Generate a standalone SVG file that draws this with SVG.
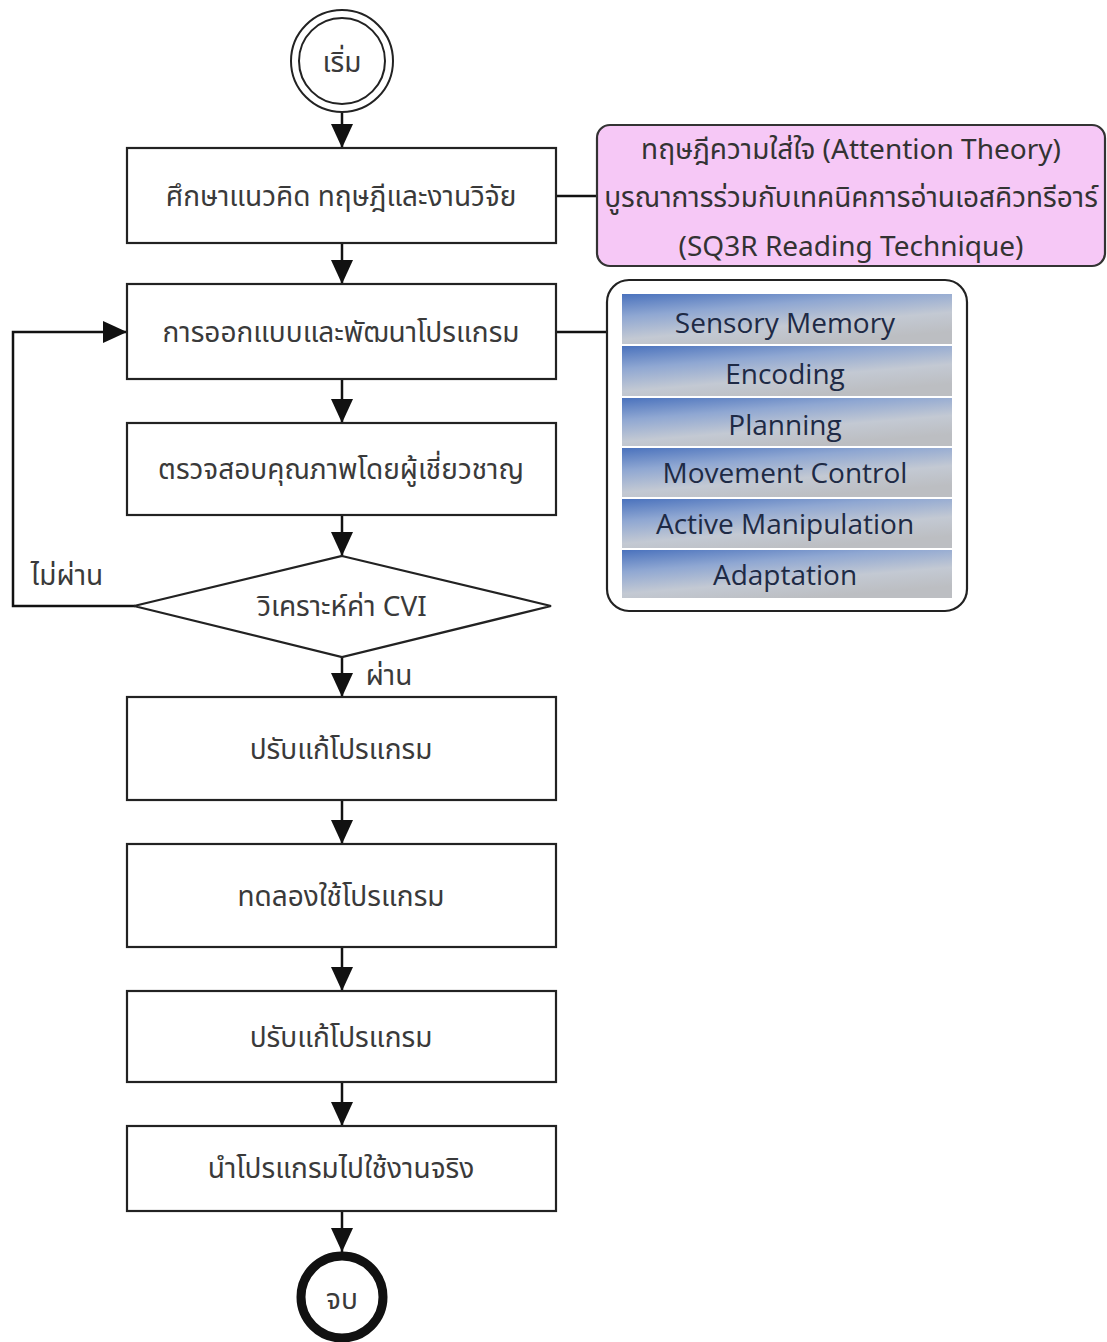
<svg xmlns="http://www.w3.org/2000/svg" width="1107" height="1342" viewBox="0 0 1107 1342">
<style>
.box{fill:#fff;stroke:#222;stroke-width:2.2}
.con{fill:none;stroke:#111;stroke-width:2.5}
.t{font-family:"Noto Sans Thai","Noto Sans","DejaVu Sans","Liberation Sans",sans-serif;font-size:28px;fill:#3a3a3a;text-anchor:middle;dominant-baseline:central}
.p{font-family:"Noto Sans Thai","Noto Sans","DejaVu Sans","Liberation Sans",sans-serif;font-size:28px;fill:#333;text-anchor:middle;dominant-baseline:central}
.b{font-family:"Open Sans","Noto Sans","DejaVu Sans",sans-serif;font-size:28px;fill:#1e2a45;text-anchor:middle;dominant-baseline:central}
</style>
<defs>
<marker id="arr" markerUnits="userSpaceOnUse" markerWidth="24" markerHeight="22" viewBox="0 0 24 22" refX="24" refY="11" orient="auto">
<path d="M0,0 L24,11 L0,22 z" fill="#111"/>
</marker>
<linearGradient id="band" x1="0" y1="0" x2="0.55" y2="1">
<stop offset="0" stop-color="#4a72bd"/>
<stop offset="0.35" stop-color="#8fa7d2"/>
<stop offset="0.7" stop-color="#c3c9d3"/>
<stop offset="1" stop-color="#bcbec2"/>
</linearGradient>
</defs>
<rect width="1107" height="1342" fill="#fff"/>

<g id="connectors">
<line class="con" x1="342" y1="113" x2="342" y2="148" marker-end="url(#arr)"/>
<line class="con" x1="342" y1="243" x2="342" y2="284" marker-end="url(#arr)"/>
<line class="con" x1="342" y1="379" x2="342" y2="423" marker-end="url(#arr)"/>
<line class="con" x1="342" y1="515" x2="342" y2="556" marker-end="url(#arr)"/>
<line class="con" x1="342" y1="657" x2="342" y2="697" marker-end="url(#arr)"/>
<line class="con" x1="342" y1="800" x2="342" y2="844" marker-end="url(#arr)"/>
<line class="con" x1="342" y1="947" x2="342" y2="991" marker-end="url(#arr)"/>
<line class="con" x1="342" y1="1082" x2="342" y2="1126" marker-end="url(#arr)"/>
<line class="con" x1="342" y1="1211" x2="342" y2="1252" marker-end="url(#arr)"/>
<polyline class="con" points="135,606 13,606 13,332 127,332" marker-end="url(#arr)"/>
<line class="con" x1="556" y1="196" x2="597" y2="196"/>
<line class="con" x1="556" y1="332" x2="607" y2="332"/>
<text class="t" x="67" y="576">ไม่ผ่าน</text>
<text class="t" x="389" y="676">ผ่าน</text>
</g>

<g id="start">
<circle cx="342" cy="61" r="51" fill="#fff" stroke="#222" stroke-width="2"/>
<circle cx="342" cy="61" r="43" fill="#fff" stroke="#222" stroke-width="2"/>
<text class="t" x="342" y="63">เริ่ม</text>
</g>

<g id="n1">
<rect class="box" x="127" y="148" width="429" height="95"/>
<text class="t" x="341" y="197">ศึกษาแนวคิด ทฤษฎีและงานวิจัย</text>
</g>
<g id="n2">
<rect class="box" x="127" y="284" width="429" height="95"/>
<text class="t" x="341" y="333">การออกแบบและพัฒนาโปรแกรม</text>
</g>
<g id="n3">
<rect class="box" x="127" y="423" width="429" height="92"/>
<text class="t" x="341" y="470">ตรวจสอบคุณภาพโดยผู้เชี่ยวชาญ</text>
</g>
<g id="d1">
<polygon class="box" points="342,556 551,606 342,657 134,606"/>
<text class="t" x="342" y="607">วิเคราะห์ค่า CVI</text>
</g>
<g id="n4">
<rect class="box" x="127" y="697" width="429" height="103"/>
<text class="t" x="341" y="750">ปรับแก้โปรแกรม</text>
</g>
<g id="n5">
<rect class="box" x="127" y="844" width="429" height="103"/>
<text class="t" x="341" y="897">ทดลองใช้โปรแกรม</text>
</g>
<g id="n6">
<rect class="box" x="127" y="991" width="429" height="91"/>
<text class="t" x="341" y="1038">ปรับแก้โปรแกรม</text>
</g>
<g id="n7">
<rect class="box" x="127" y="1126" width="429" height="85"/>
<text class="t" x="341" y="1169">นำโปรแกรมไปใช้งานจริง</text>
</g>
<g id="end">
<circle cx="342" cy="1297" r="41" fill="#fff" stroke="#111" stroke-width="9"/>
<text class="t" x="342" y="1300">จบ</text>
</g>

<g id="theory">
<rect x="597" y="125" width="508" height="141" rx="13" fill="#f6c8f6" stroke="#333" stroke-width="2.2"/>
<text class="p" x="851" y="150">ทฤษฎีความใส่ใจ (Attention Theory)</text>
<text class="p" x="851" y="198">บูรณาการร่วมกับเทคนิคการอ่านเอสคิวทรีอาร์</text>
<text class="p" x="851" y="247">(SQ3R Reading Technique)</text>
</g>

<g id="components">
<rect x="607" y="280" width="360" height="331" rx="22" fill="#fff" stroke="#222" stroke-width="2.2"/>
<rect x="622" y="294" width="330" height="50" fill="url(#band)"/>
<rect x="622" y="346" width="330" height="50" fill="url(#band)"/>
<rect x="622" y="398" width="330" height="48" fill="url(#band)"/>
<rect x="622" y="448" width="330" height="49" fill="url(#band)"/>
<rect x="622" y="499" width="330" height="49" fill="url(#band)"/>
<rect x="622" y="550" width="330" height="48" fill="url(#band)"/>
<text class="b" x="785" y="322">Sensory Memory</text>
<text class="b" x="785" y="373">Encoding</text>
<text class="b" x="785" y="424">Planning</text>
<text class="b" x="785" y="472">Movement Control</text>
<text class="b" x="785" y="523">Active Manipulation</text>
<text class="b" x="785" y="574">Adaptation</text>
</g>
</svg>
